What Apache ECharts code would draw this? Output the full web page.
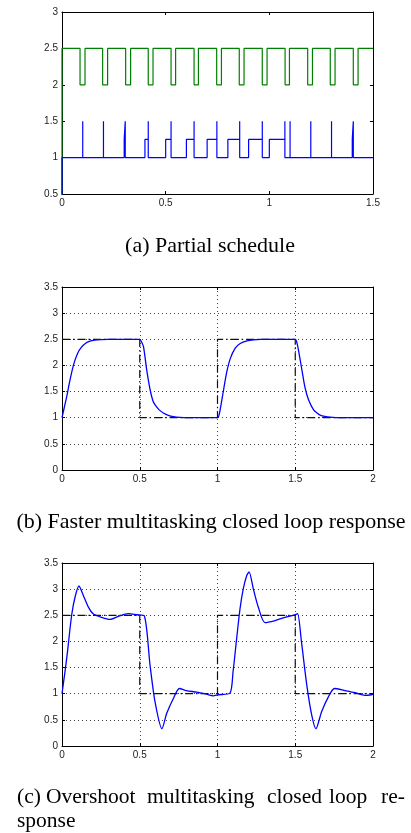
<!DOCTYPE html>
<html>
<head>
<meta charset="utf-8">
<script src="https://cdn.jsdelivr.net/npm/echarts@6/dist/echarts.min.js"></script>
<style>
html,body{margin:0;padding:0;background:#fff;}
#chart{width:411px;height:833px;}
</style>
</head>
<body>
<div id="chart"></div>
<script>
// ---------- (a) Partial schedule ----------
const scheduleXTicks = [0, 0.5, 1, 1.5];
const scheduleYTicks = [0.5, 1, 1.5, 2, 2.5, 3];
// green task: high at 2.5, dips to 2 between these instants
const greenDipStart = [0.087, 0.196, 0.307, 0.416, 0.526, 0.637, 0.746, 0.855, 0.966, 1.076, 1.185, 1.294, 1.405];
const greenDipEnd   = [0.111, 0.220, 0.331, 0.439, 0.548, 0.658, 0.769, 0.878, 0.989, 1.097, 1.208, 1.317, 1.428];
const greenHigh = 2.5, greenLow = 2;
// blue task (step trace, [time, value])
const blueSchedule = [
  [0,0],[0,1],
  [0.1,1],[0.1,1.5],[0.1,1],
  [0.2,1],[0.2,1.5],[0.2,1],
  [0.3,1],[0.3,1.25],[0.305,1.25],[0.305,1.5],[0.305,1],
  [0.4,1],[0.4,1.25],[0.416,1.25],[0.416,1.5],[0.416,1],
  [0.5,1],[0.5,1.25],[0.526,1.25],[0.526,1.5],[0.526,1],
  [0.6,1],[0.6,1.25],[0.637,1.25],[0.637,1.5],[0.637,1],
  [0.7,1],[0.7,1.25],[0.747,1.25],[0.747,1.5],[0.747,1],
  [0.8,1],[0.8,1.25],[0.857,1.25],[0.857,1.5],[0.857,1],
  [0.9,1],[0.9,1.25],[0.966,1.25],[0.966,1.5],[0.966,1],
  [1.0,1],[1.0,1.25],[1.075,1.25],[1.075,1.5],[1.075,1],
  [1.1,1],[1.1,1.5],[1.1,1],
  [1.2,1],[1.2,1.5],[1.2,1],
  [1.3,1],[1.3,1.5],[1.3,1],
  [1.4,1],[1.4,1.25],[1.405,1.25],[1.405,1.5],[1.405,1],
  [1.5,1]
];

// ---------- (b)/(c) closed loop responses ----------
const respXTicks = [0, 0.5, 1, 1.5, 2];
const respYTicks = [0, 0.5, 1, 1.5, 2, 2.5, 3, 3.5];
const referenceT = [0, 0.5, 0.5, 1, 1, 1.5, 1.5, 2];
const referenceY = [2.5, 2.5, 1, 1, 2.5, 2.5, 1, 1];

const fasterT = [0, 0.015, 0.03, 0.05, 0.075, 0.1, 0.125, 0.15, 0.18, 0.21, 0.25, 0.3, 0.4, 0.5,
  0.51, 0.524, 0.545, 0.567, 0.585, 0.6, 0.625, 0.652, 0.68, 0.717, 0.76, 0.8, 0.9, 1.0,
  1.008, 1.017, 1.039, 1.06, 1.082, 1.114, 1.146, 1.19, 1.23, 1.275, 1.35, 1.5,
  1.51, 1.521, 1.543, 1.564, 1.586, 1.618, 1.64, 1.66, 1.69, 1.725, 1.79, 1.9, 2.0];
const fasterY = [1, 1.2, 1.40, 1.70, 2.02, 2.23, 2.35, 2.42, 2.465, 2.485, 2.495, 2.5, 2.5, 2.5,
  2.46, 2.36, 1.91, 1.53, 1.32, 1.24, 1.15, 1.09, 1.05, 1.02, 1.005, 1.0, 1.0, 1.0,
  1.03, 1.15, 1.53, 1.88, 2.13, 2.33, 2.42, 2.47, 2.49, 2.5, 2.5, 2.5,
  2.44, 2.29, 1.91, 1.56, 1.34, 1.15, 1.09, 1.05, 1.025, 1.01, 1.0, 1.0, 1.0];

const overshootT = [0, 0.03, 0.062, 0.084, 0.109, 0.137, 0.169, 0.2, 0.255, 0.309, 0.362, 0.427, 0.48, 0.529,
  0.566, 0.598, 0.643, 0.673, 0.716, 0.755, 0.8, 0.866, 0.93, 0.973, 1.005, 1.08,
  1.1, 1.123, 1.145, 1.166, 1.188, 1.203, 1.23, 1.262, 1.305, 1.37, 1.434, 1.498, 1.515,
  1.54, 1.574, 1.606, 1.633, 1.67, 1.713, 1.752, 1.82, 1.884, 1.948, 1.99, 2.0];
const overshootY = [1, 1.67, 2.5, 2.85, 3.06, 2.88, 2.66, 2.53, 2.46, 2.42, 2.48, 2.53, 2.51, 2.49,
  1.55, 0.85, 0.33, 0.62, 0.91, 1.1, 1.06, 1.03, 0.99, 0.96, 0.98, 1.01,
  1.42, 2.05, 2.63, 3.01, 3.26, 3.33, 3.01, 2.66, 2.36, 2.40, 2.46, 2.51, 2.53,
  1.99, 1.17, 0.59, 0.33, 0.66, 0.94, 1.1, 1.06, 1.02, 0.97, 0.98, 0.99];

// ---------- build ----------
function zip(t, y) { return t.map((v, i) => [v, y[i]]); }
function greenSteps() {
  const d = [[0, 0], [0, greenHigh]];
  greenDipStart.forEach((s, i) => {
    d.push([s, greenHigh], [s, greenLow], [greenDipEnd[i], greenLow], [greenDipEnd[i], greenHigh]);
  });
  d.push([1.5, greenHigh]);
  return d;
}

const labelFont = { fontFamily: 'Liberation Sans', fontSize: 10, color: '#222' };
const gridsPos = [
  { left: 62, top: 12, width: 311, height: 182 },
  { left: 62, top: 287, width: 311, height: 183 },
  { left: 62, top: 563, width: 311, height: 183 }
];

const grid = [], xAxis = [], yAxis = [];
function addAxes(gi, xt, yt, showGrid) {
  const xmin = xt[0], xmax = xt[xt.length - 1], xint = xt[1] - xt[0];
  const ymin = yt[0], ymax = yt[yt.length - 1], yint = yt[1] - yt[0];
  const lineC = { lineStyle: { color: '#000', width: 1 } };
  const split = { show: showGrid, lineStyle: { color: '#444', width: 1, type: [1, 3] } };
  xAxis.push({ type: 'value', gridIndex: gi, position: 'bottom', min: xmin, max: xmax, interval: xint,
    axisLine: { show: true, onZero: false, ...lineC },
    axisTick: { show: true, inside: true, length: 3, lineStyle: { color: '#000' } },
    axisLabel: { ...labelFont, margin: 4 },
    splitLine: split });
  xAxis.push({ type: 'value', gridIndex: gi, position: 'top', min: xmin, max: xmax, interval: xint,
    axisLine: { show: true, onZero: false, ...lineC },
    axisTick: { show: true, inside: true, length: 3, lineStyle: { color: '#000' } },
    axisLabel: { show: false }, splitLine: { show: false } });
  yAxis.push({ type: 'value', gridIndex: gi, position: 'left', min: ymin, max: ymax, interval: yint,
    axisLine: { show: true, onZero: false, ...lineC },
    axisTick: { show: true, inside: true, length: 3, lineStyle: { color: '#000' } },
    axisLabel: { ...labelFont, margin: 4 },
    splitLine: split });
  yAxis.push({ type: 'value', gridIndex: gi, position: 'right', min: ymin, max: ymax, interval: yint,
    axisLine: { show: true, onZero: false, ...lineC },
    axisTick: { show: true, inside: true, length: 3, lineStyle: { color: '#000' } },
    axisLabel: { show: false }, splitLine: { show: false } });
}
gridsPos.forEach(g => grid.push({ ...g, containLabel: false, outerBoundsMode: 'none' }));
addAxes(0, scheduleXTicks, scheduleYTicks, false);
addAxes(1, respXTicks, respYTicks, true);
addAxes(2, respXTicks, respYTicks, true);

const refStyle = { color: '#111', width: 1.2, type: [8, 3, 1.5, 3] };
const series = [
  { type: 'line', xAxisIndex: 0, yAxisIndex: 0, data: greenSteps(), showSymbol: false, symbol: 'none',
    lineStyle: { color: '#008000', width: 1.2 }, clip: true, animation: false },
  { type: 'line', xAxisIndex: 0, yAxisIndex: 0, data: blueSchedule, showSymbol: false, symbol: 'none',
    lineStyle: { color: '#0000ff', width: 1.2 }, clip: true, animation: false },
  { type: 'line', xAxisIndex: 2, yAxisIndex: 2, data: zip(referenceT, referenceY), symbol: 'none',
    lineStyle: refStyle, animation: false },
  { type: 'line', xAxisIndex: 2, yAxisIndex: 2, data: zip(fasterT, fasterY), symbol: 'none', smooth: 0.3,
    lineStyle: { color: '#0000ff', width: 1.3 }, animation: false },
  { type: 'line', xAxisIndex: 4, yAxisIndex: 4, data: zip(referenceT, referenceY), symbol: 'none',
    lineStyle: refStyle, animation: false },
  { type: 'line', xAxisIndex: 4, yAxisIndex: 4, data: zip(overshootT, overshootY), symbol: 'none', smooth: 0.25,
    lineStyle: { color: '#0000ff', width: 1.3 }, animation: false }
];

function cap(text, x, y, align, size) {
  return { type: 'text', x: x, y: y,
    style: { text: text, font: (size || 22) + 'px "Liberation Serif"', fill: '#000', align: align || 'left', verticalAlign: 'middle' } };
}
const graphic = [
  cap('(a) Partial schedule', 210, 246, 'center'),
  cap('(b) Faster multitasking closed loop response', 211, 522, 'center'),
  cap('(c)', 17, 797, 'left', 21.5), cap('Overshoot', 46, 797, 'left', 21.5), cap('multitasking', 147, 797, 'left', 21.5),
  cap('closed', 267, 797, 'left', 21.5), cap('loop', 329, 797, 'left', 21.5), cap('re-', 381, 797, 'left', 21.5),
  cap('sponse', 17, 821, 'left', 21.5)
];

const chart = echarts.init(document.getElementById('chart'), null, { renderer: 'canvas' });
chart.setOption({ animation: false, grid, xAxis, yAxis, series, graphic });
</script>
</body>
</html>
